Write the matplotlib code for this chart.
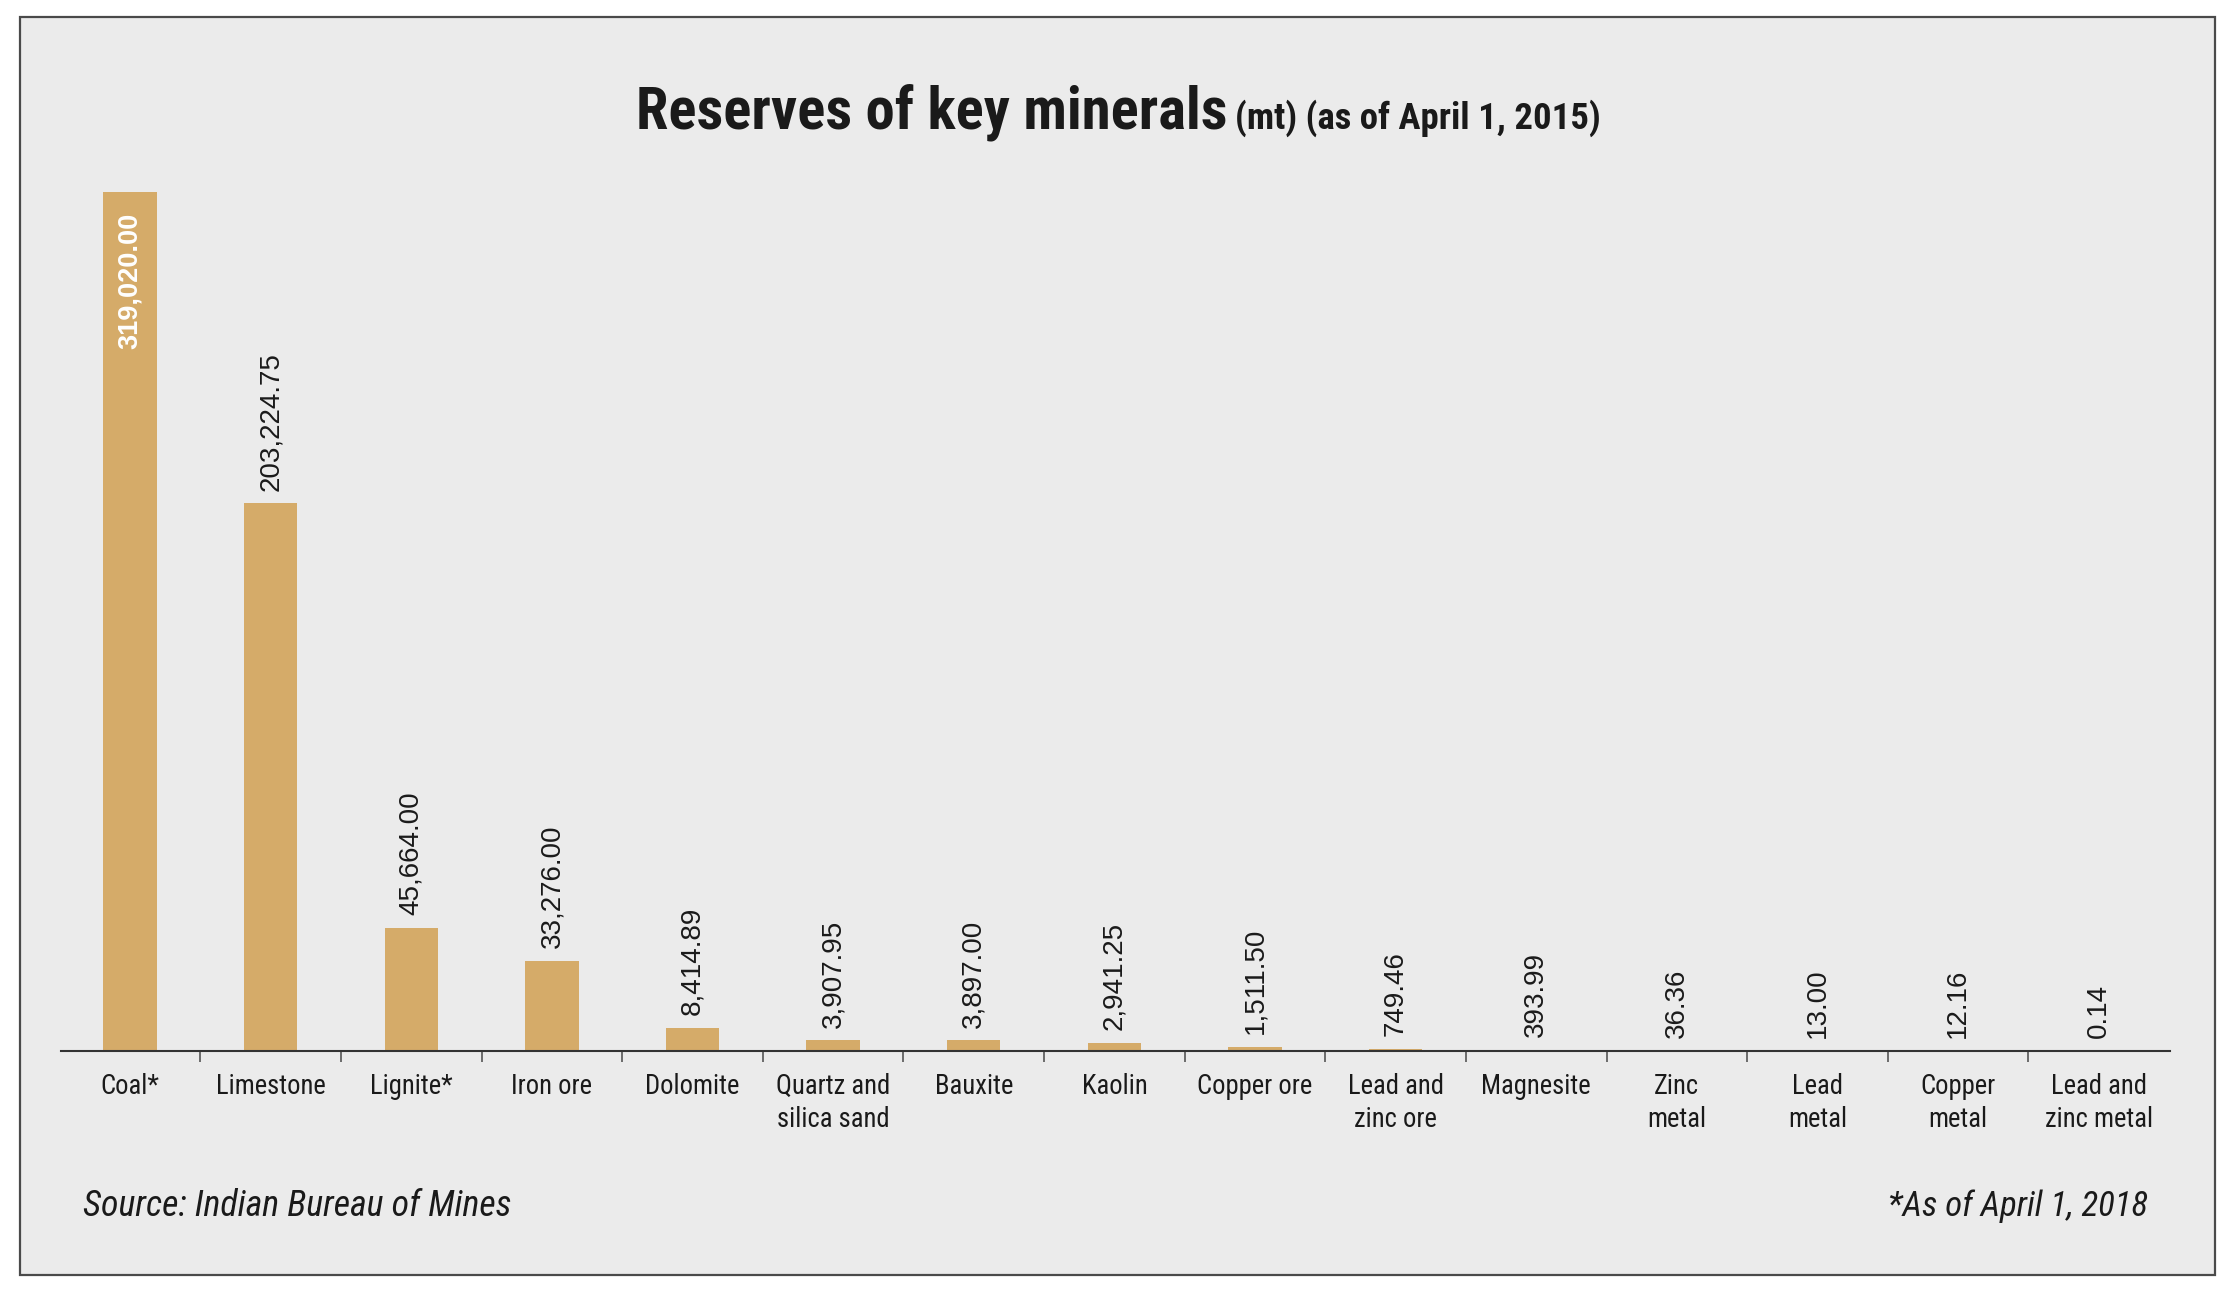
import matplotlib
matplotlib.use("Agg")
import matplotlib.pyplot as plt
from matplotlib import font_manager
from matplotlib.patches import Rectangle

# Data
minerals = ["Coal*", "Limestone", "Lignite*", "Iron ore", "Dolomite",
            "Quartz and\nsilica sand", "Bauxite", "Kaolin", "Copper ore",
            "Lead and\nzinc ore", "Magnesite", "Zinc\nmetal", "Lead\nmetal",
            "Copper\nmetal", "Lead and\nzinc metal"]
reserves = [319020.00, 203224.75, 45664.00, 33276.00, 8414.89, 3907.95,
            3897.00, 2941.25, 1511.50, 749.46, 393.99, 36.36, 13.00, 12.16, 0.14]

BG = "#ebebeb"
BAR = "#d5ab69"
INK = "#1a1a1a"

# pick a narrow font if one exists
fonts = font_manager.fontManager.ttflist
names = {f.name for f in fonts}
narrow = {"fontfamily": "DejaVu Sans"}
for cand in ["Liberation Sans Narrow", "Roboto Condensed", "Open Sans Condensed"]:
    if cand in names:
        narrow = {"fontfamily": cand}
        break
else:
    if any(f.name == "DejaVu Sans" and f.stretch == "condensed" for f in fonts):
        narrow = {"fontfamily": "DejaVu Sans", "fontstretch": "condensed"}
REG = "Liberation Sans" if "Liberation Sans" in names else "DejaVu Sans"

fig = plt.figure(figsize=(22.29, 12.95), dpi=100)
fig.patch.set_facecolor("white")

# reference layout measured on a 1560 x 906 grid
W, H = 1560.0, 906.0
S = 2229 / W
def fx(x):
    return x / W
def fy(y):
    return 1 - y / H

panel = Rectangle((fx(14), fy(892)), fx(1550) - fx(14), fy(12) - fy(892),
                  transform=fig.transFigure, facecolor=BG, edgecolor="#4a4a4a",
                  linewidth=1.6, zorder=-10)
fig.patches.append(panel)

ax = fig.add_axes([fx(43), fy(735), fx(1519) - fx(43), fy(134) - fy(735)])
ax.set_facecolor("none")

x = list(range(len(minerals)))
ax.bar(x, reserves, width=0.38, color=BAR, zorder=2)

ax.set_xlim(-0.488, 14.51)
ax.set_ylim(0, max(reserves))

for s in ["top", "left", "right"]:
    ax.spines[s].set_visible(False)
ax.spines["bottom"].set_color("#333333")
ax.spines["bottom"].set_linewidth(1.5)
ax.set_yticks([])

ax.set_xticks(x)
ax.set_xticklabels(minerals, fontsize=19, color=INK, linespacing=1.3, **narrow)
ax.tick_params(axis="x", which="major", length=0, pad=16)
ax.set_xticks([i + 0.5 for i in range(len(minerals) - 1)], minor=True)
ax.tick_params(axis="x", which="minor", length=8, width=1.2, color="#555555",
               direction="out")

# value labels
for i, v in enumerate(reserves):
    txt = f"{v:,.2f}"
    if i == 0:
        ax.annotate(txt, (i, v), xytext=(0, -15), textcoords="offset points",
                    rotation=90, ha="center", va="top", color="white",
                    fontfamily=REG, fontweight="bold", fontsize=19.5)
    else:
        ax.annotate(txt, (i, v), xytext=(0, 9), textcoords="offset points",
                    rotation=90, ha="center", va="bottom", color=INK,
                    fontfamily=REG, fontsize=20)

renderer = fig.canvas.get_renderer()

def fit(t, width_ref):
    # shrink/grow font so the text spans the reference width
    for _ in range(2):
        w = t.get_window_extent(renderer).width
        t.set_fontsize(t.get_fontsize() * width_ref * S / w)

# title in two parts
t1 = fig.text(fx(445), fy(90), "Reserves of key minerals", fontweight="bold",
              fontsize=44, color=INK, ha="left", va="baseline", **narrow)
fit(t1, 413)
bb = t1.get_window_extent(renderer)
x2 = fig.transFigure.inverted().transform((bb.x1 + 8, 0))[0]
t2 = fig.text(x2, fy(90), "(mt) (as of April 1, 2015)", fontweight="bold",
              fontsize=27, color=INK, ha="left", va="baseline", **narrow)
fit(t2, 256)

# tick label size from "Limestone"
lab = ax.get_xticklabels()[1]
w = lab.get_window_extent(renderer).width
tick_size = 19 * 77 * S / w
for lab in ax.get_xticklabels():
    lab.set_fontsize(min(tick_size, 20))

# notes
n1 = fig.text(fx(58), fy(851), "Source: Indian Bureau of Mines", style="italic",
              fontsize=25, color=INK, ha="left", va="baseline", **narrow)
fit(n1, 300)
n2 = fig.text(fx(1503), fy(851), "*As of April 1, 2018", style="italic",
              fontsize=25, color=INK, ha="right", va="baseline", **narrow)
fit(n2, 182)

fig.savefig("out.png", dpi=100, facecolor=fig.get_facecolor())
